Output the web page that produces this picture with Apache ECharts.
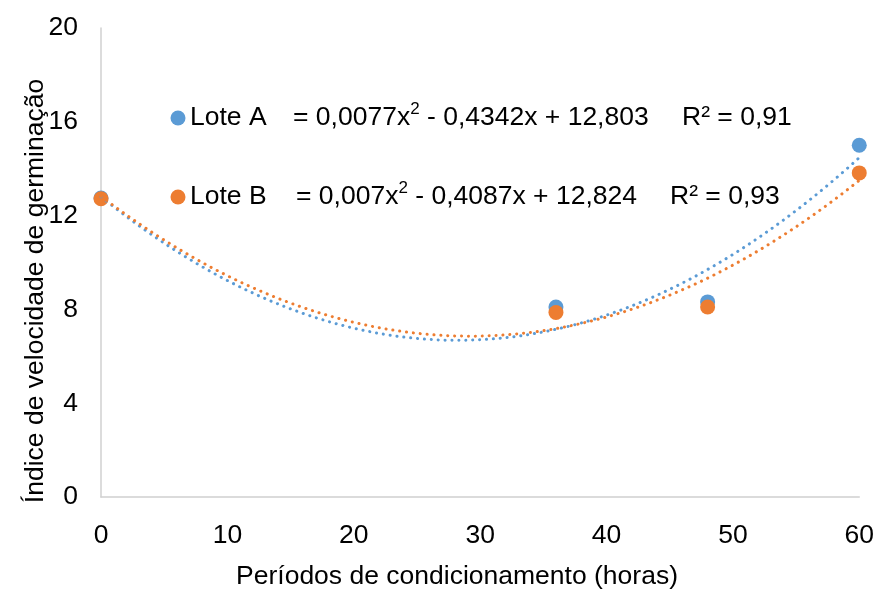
<!DOCTYPE html>
<html>
<head>
<meta charset="utf-8">
<script src="https://cdn.jsdelivr.net/npm/echarts@6/dist/echarts.min.js"></script>
<style>
  html, body { margin: 0; padding: 0; background: #fff; }
  #chart { width: 877px; height: 589px; }
</style>
</head>
<body>
<div id="chart"></div>
<script>
// Conditioning periods (hours) and germination speed index per seed lot
const periods = [0, 36, 48, 60];
const loteA = [12.75, 8.10, 8.32, 15.00];
const loteB = [12.72, 7.87, 8.10, 13.82];

// Quadratic trendline coefficients [a, b, c] for y = a·x² + b·x + c
const coefA = [0.0077, -0.4342, 12.803];
const coefB = [0.007, -0.4087, 12.824];
const r2A = '0,91';
const r2B = '0,93';

// Axis ticks
const xTicks = [0, 10, 20, 30, 40, 50, 60];
const yTicks = [0, 4, 8, 12, 16, 20];

const blue = '#5B9BD5';
const orange = '#ED7D31';
const FONT = '"Liberation Sans", Arial, sans-serif';
const FS = 26.5;

function trend(coef, x0, x1, step) {
  const pts = [];
  for (let x = x0; x <= x1 + 1e-9; x += step) {
    pts.push([x, coef[0] * x * x + coef[1] * x + coef[2]]);
  }
  return pts;
}

const chart = echarts.init(document.getElementById('chart'), null, { renderer: 'canvas' });

const dotted = { width: 3, type: [0.1, 6.8], cap: 'round' };

const eqRich = {
  t: { fontSize: FS, fontFamily: FONT, color: '#000', lineHeight: 30, verticalAlign: 'bottom' },
  s: { fontSize: 17, fontFamily: FONT, color: '#000', lineHeight: 30, verticalAlign: 'top' }
};

function eqRow(label, coef, r2, y, xEq, xR2, color) {
  const fmt = (v) => String(Math.abs(v)).replace('.', ',');
  const base = { font: FS + 'px ' + FONT, fill: '#000', verticalAlign: 'middle', align: 'left' };
  return [
    { type: 'circle', shape: { cx: 178, cy: y, r: 7.5 }, style: { fill: color } },
    { type: 'text', x: 190, y: y, style: Object.assign({ text: label }, base) },
    {
      type: 'text', x: xEq, y: y - 2,
      style: {
        text: '{t|= ' + fmt(coef[0]) + 'x}{s|2}{t| - ' + fmt(coef[1]) + 'x + ' + fmt(coef[2]) + '}',
        rich: eqRich, verticalAlign: 'middle', align: 'left'
      }
    },
    { type: 'text', x: xR2, y: y, style: Object.assign({ text: 'R² = ' + r2 }, base) }
  ];
}

chart.setOption({
  animation: false,
  backgroundColor: '#fff',
  grid: { left: 101, right: 15, top: 28, bottom: 92 },
  xAxis: {
    type: 'value', min: 0, max: 60, interval: 10,
    axisLine: { show: true, lineStyle: { color: '#D0D0D0', width: 1.5 } },
    axisTick: { show: false },
    splitLine: { show: false },
    axisLabel: { fontSize: FS, fontFamily: FONT, color: '#000', margin: 25 }
  },
  yAxis: {
    type: 'value', min: 0, max: 20, interval: 4,
    axisLine: { show: true, lineStyle: { color: '#D0D0D0', width: 1.5 } },
    axisTick: { show: false },
    splitLine: { show: false },
    axisLabel: { fontSize: FS, fontFamily: FONT, color: '#000', margin: 23 }
  },
  series: [
    {
      name: 'Lote A', type: 'scatter', symbol: 'circle', symbolSize: 15,
      itemStyle: { color: blue, opacity: 1 }, data: periods.map((p, i) => [p, loteA[i]]), z: 3
    },
    {
      name: 'Lote B', type: 'scatter', symbol: 'circle', symbolSize: 15,
      itemStyle: { color: orange, opacity: 1 }, data: periods.map((p, i) => [p, loteB[i]]), z: 4
    },
    {
      name: 'Tendência A', type: 'line', showSymbol: false, smooth: false,
      lineStyle: Object.assign({ color: blue }, dotted), data: trend(coefA, 0, 60, 0.5), z: 5
    },
    {
      name: 'Tendência B', type: 'line', showSymbol: false, smooth: false,
      lineStyle: Object.assign({ color: orange }, dotted), data: trend(coefB, 0, 60, 0.5), z: 6
    }
  ],
  graphic: [].concat(
    eqRow('Lote A', coefA, r2A, 118, 293, 682, blue),
    eqRow('Lote B', coefB, r2B, 197, 296, 670, orange),
    [
      {
        type: 'text', x: 457, y: 577,
        style: { text: 'Períodos de condicionamento (horas)', font: FS + 'px ' + FONT, fill: '#000', align: 'center', verticalAlign: 'middle' }
      },
      {
        type: 'text', x: 36, y: 291, rotation: Math.PI / 2,
        style: { text: 'Índice de velocidade de germinação', font: FS + 'px ' + FONT, fill: '#000', align: 'center', verticalAlign: 'middle' }
      }
    ]
  )
});
</script>
</body>
</html>
